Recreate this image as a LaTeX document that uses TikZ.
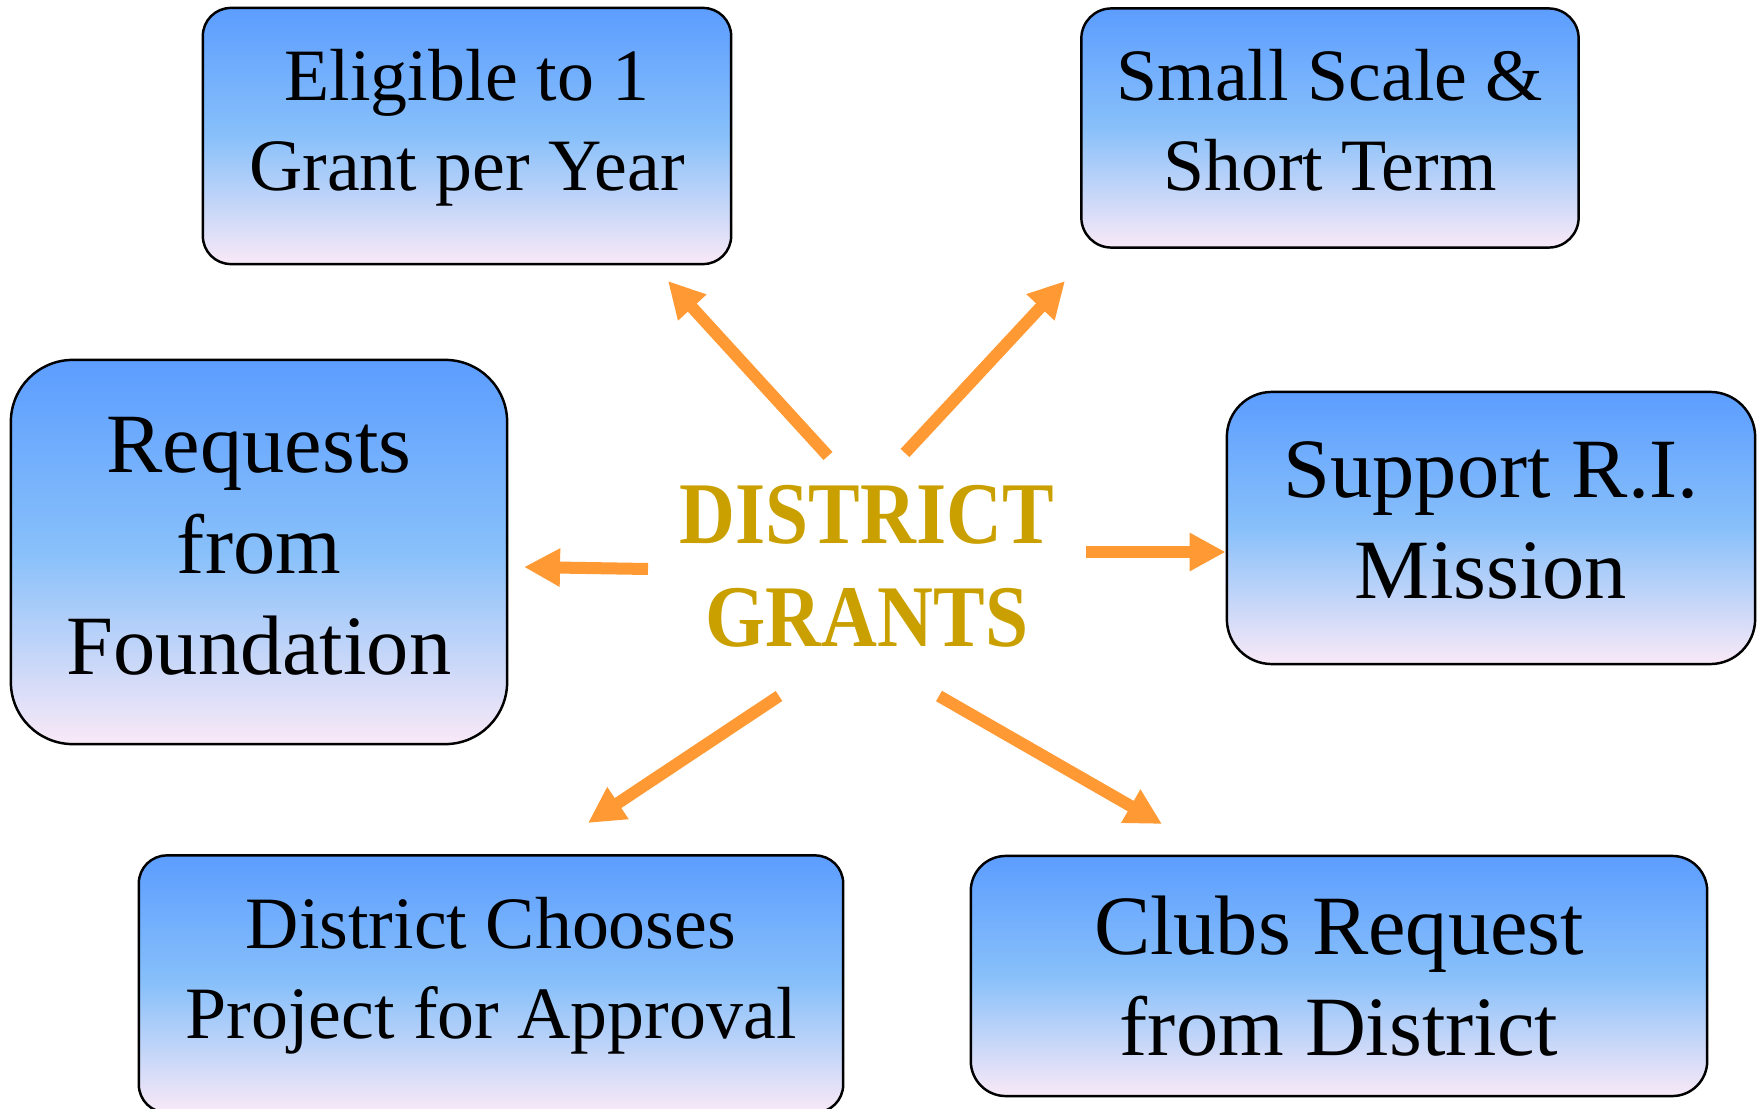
\documentclass[tikz,border=0pt]{standalone}
\usepackage{fontspec}
\setmainfont{Liberation Serif}
\usetikzlibrary{arrows.meta}
\definecolor{ArrowOrange}{HTML}{FF9933}
\definecolor{BoxTop}{HTML}{5C9DFF}
\definecolor{BoxMid}{HTML}{88C0FA}
\definecolor{BoxBottom}{HTML}{F9E9F7}
\definecolor{GrantGold}{HTML}{C9A000}

\tikzset{
  grantbox/.style={draw, line width=0.7pt, rounded corners=#1, top color=BoxTop,
    bottom color=BoxBottom, middle color=BoxMid, align=center, inner sep=0pt},
  smalltext/.style={font=\fontsize{21}{25.6}\selectfont},
  bigtext/.style={font=\fontsize{24}{28.8}\selectfont},
  grantarrow/.style={ArrowOrange, line width=1.2mm, -{Triangle[length=3.6mm,width=3.6mm]}}
}

\begin{document}
\begin{tikzpicture}[x=0.01cm, y=-0.01cm]
\clip (0,0) rectangle (1762,1109);

% Centre title
\node[font=\fontsize{25}{29.3}\selectfont\bfseries, text=GrantGold, align=center, xscale=0.88] (title) at (867,566) {DISTRICT\\GRANTS};

% Top row
\node[grantbox=2.8mm, smalltext, text depth=9.2pt, minimum width=5.28cm, minimum height=2.56cm] (elig) at (467,136) {Eligible to 1\\Grant per Year};
\node[grantbox=3mm, smalltext, text depth=4.6pt, minimum width=4.97cm, minimum height=2.39cm] (small) at (1330,128) {Small Scale \&\\Short Term};

% Middle row
\node[grantbox=6.2mm, bigtext, text depth=3.4pt, minimum width=4.96cm, minimum height=3.84cm] (req) at (259,552) {Requests\\from\\Foundation};
\node[grantbox=4.5mm, bigtext, text depth=4.6pt, minimum width=5.28cm, minimum height=2.72cm] (supp) at (1491,528) {Support R.I.\\Mission};

% Bottom row
\node[grantbox=2.8mm, smalltext, text depth=9.2pt, minimum width=7.04cm, minimum height=2.57cm] (chooses) at (491,984) {District Chooses\\Project for Approval};
\node[grantbox=3.5mm, bigtext, text depth=-1.7pt, minimum width=7.36cm, minimum height=2.40cm] (clubs) at (1339,976) {Clubs Request\\from District};

% Arrow ends
\coordinate (fromElig) at (828,456);
\coordinate (toElig) at (668,281);
\coordinate (fromSmall) at (905,453);
\coordinate (toSmall) at (1065,281);
\coordinate (fromReq) at (648,569);
\coordinate (toReq) at (524,567);
\coordinate (fromSupp) at (1086,552);
\coordinate (fromChooses) at (779,696);
\coordinate (toChooses) at (588,823);
\coordinate (fromClubs) at (939,696);
\coordinate (toClubs) at (1162,824);

% Arrows out of the title
\draw[grantarrow] (fromElig) -- (toElig);
\draw[grantarrow] (fromSmall) -- (toSmall);
\draw[grantarrow] (fromReq) -- (toReq);
\draw[grantarrow] (fromSupp) -- (fromSupp -| supp.west);
\draw[grantarrow] (fromChooses) -- (toChooses);
\draw[grantarrow] (fromClubs) -- (toClubs);

\end{tikzpicture}
\end{document}
